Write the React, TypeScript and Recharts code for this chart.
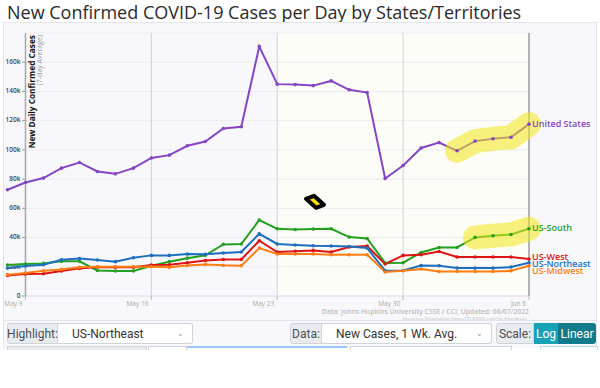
import React from 'react';
import {
  LineChart,
  Line,
  XAxis,
  YAxis,
  ReferenceLine,
  ReferenceArea,
  ReferenceDot,
  LabelList,
} from 'recharts';

const dates = [
  'May 8', 'May 9', 'May 10', 'May 11', 'May 12', 'May 13', 'May 14', 'May 15',
  'May 16', 'May 17', 'May 18', 'May 19', 'May 20', 'May 21', 'May 22', 'May 23',
  'May 24', 'May 25', 'May 26', 'May 27', 'May 28', 'May 29', 'May 30', 'May 31',
  'Jun 1', 'Jun 2', 'Jun 3', 'Jun 4', 'Jun 5', 'Jun 6',
];
const xTicks = [1, 8, 15, 22, 29];
const yTicks = [0, 20000, 40000, 60000, 80000, 100000, 120000, 140000, 160000, 180000];

const unitedStates = [
  72700, 77700, 80700, 87500, 91400, 85200, 83600, 87500, 94500, 96400,
  102800, 105700, 114600, 115800, 170700, 145000, 144700, 144000, 147200, 141100,
  139200, 80400, 89300, 101300, 105000, 99400, 106000, 107600, 108700, 117600,
];
const usSouth = [
  21200, 21900, 22300, 23700, 23700, 17500, 17100, 17100, 20700, 23500,
  25900, 27900, 35300, 35600, 52000, 46000, 45500, 45800, 46000, 40300,
  39400, 22600, 22800, 29800, 33200, 33200, 40100, 41200, 42100, 46000,
];
const usNortheast = [
  19100, 20500, 21400, 24800, 25700, 24600, 23500, 26200, 27800, 27800,
  28700, 28500, 29400, 30100, 42600, 35600, 34900, 34400, 34200, 33900,
  32800, 17300, 17500, 20900, 20700, 19100, 19100, 19100, 19800, 22800,
];
const usWest = [
  14100, 15000, 15200, 17100, 18900, 19800, 19600, 19600, 21200, 21400,
  22800, 24300, 25000, 25000, 37800, 30100, 30600, 31200, 30100, 33500,
  34200, 21900, 27800, 28200, 30500, 26700, 26700, 26700, 26700, 25300,
];
const usMidwest = [
  14600, 15700, 17300, 18200, 19600, 20000, 20000, 20000, 20200, 19600,
  20900, 21600, 21000, 20700, 32800, 28700, 28700, 28700, 28200, 28200,
  28200, 16400, 17300, 18500, 16800, 16800, 16800, 16800, 17200, 20700,
];

// last points marked with the yellow highlighter
const usHighlightFrom = 25;
const southHighlightFrom = 26;

const data = dates.map((date, i) => ({
  idx: i,
  date,
  us: unitedStates[i],
  south: usSouth[i],
  northeast: usNortheast[i],
  west: usWest[i],
  midwest: usMidwest[i],
  usHi: i >= usHighlightFrom ? unitedStates[i] : null,
  southHi: i >= southHighlightFrom ? usSouth[i] : null,
}));

const C = {
  us: '#8546c4',
  south: '#23a01f',
  northeast: '#1d6fbd',
  west: '#dd1414',
  midwest: '#ff7d12',
};

const chartFont = '"Open Sans", "DejaVu Sans", sans-serif';
const uiFont = 'Roboto, "Liberation Sans", Arial, sans-serif';

function endLabel(name: string, color: string, dy: number) {
  return (props: any) => {
    const { x, y, index } = props;
    if (index !== dates.length - 1) return null;
    return (
      <text
        x={x + 3}
        y={y + dy}
        fill={color}
        fontSize={9}
        fontWeight={600}
        fontFamily={chartFont}
        dominantBaseline="middle"
      >
        {name}
      </text>
    );
  };
}

// y tick label drawn at the left end of each grid segment
function yTickLabel(v: number) {
  return (props: any) => {
    const { viewBox } = props;
    if (v === 180000) return null;
    return (
      <g>
        <line x1={viewBox.x - 3.5} x2={viewBox.x} y1={viewBox.y} y2={viewBox.y} stroke="#999" />
        <text
          x={viewBox.x - 5}
          y={viewBox.y}
          textAnchor="end"
          dominantBaseline="middle"
          fontSize={6.5}
          fontWeight={600}
          fill="#444"
          fontFamily={chartFont}
        >
          {v === 0 ? '0' : `${v / 1000}k`}
        </text>
      </g>
    );
  };
}

function XTick(props: any) {
  const { x, y, payload } = props;
  return (
    <text
      x={x - 3}
      y={y + 4}
      textAnchor="end"
      fontSize={6.5}
      fill="#aaa"
      fontFamily={chartFont}
    >
      {dates[payload.value]}
    </text>
  );
}

function Cursor(props: any) {
  const { cx, cy } = props;
  return (
    <g transform={`translate(${cx},${cy})`}>
      <path
        d="M -9 -3 L -1 -6 L 9 3 L 1 6 Z"
        fill="#f5e200"
        stroke="#000"
        strokeWidth={4}
        strokeLinejoin="round"
      />
    </g>
  );
}

const dot = (color: string) => ({ r: 1.8, fill: color, stroke: color, strokeWidth: 0 });

function Control({ left, width, label, labelWidth, value }: any) {
  return (
    <div
      style={{
        position: 'absolute',
        left,
        top: 323,
        width,
        height: 21,
        display: 'flex',
        fontSize: 12,
        fontFamily: uiFont,
        color: '#495057',
      }}
    >
      <div
        style={{
          width: labelWidth,
          background: '#e9ecef',
          border: '1px solid #ced4da',
          borderRadius: '3px 0 0 3px',
          display: 'flex',
          alignItems: 'center',
          justifyContent: 'center',
          boxSizing: 'border-box',
        }}
      >
        {label}
      </div>
      {value !== undefined && (
        <div
          style={{
            flex: 1,
            background: '#fff',
            border: '1px solid #ced4da',
            borderLeft: 'none',
            borderRadius: '0 3px 3px 0',
            display: 'flex',
            alignItems: 'center',
            paddingLeft: 14,
            boxSizing: 'border-box',
            position: 'relative',
            color: '#333',
          }}
        >
          {value}
          <span style={{ position: 'absolute', right: 8, fontSize: 8, color: '#999' }}>⌄</span>
        </div>
      )}
    </div>
  );
}

export default function App() {
  return (
    <div
      style={{
        position: 'absolute',
        left: 0,
        top: 0,
        width: 600,
        height: 388,
        background: '#fff',
        overflow: 'hidden',
      }}
    >
      <div
        style={{
          position: 'absolute',
          left: 7,
          top: 0,
          fontSize: 18,
          fontFamily: chartFont,
          color: '#2a2a2a',
          whiteSpace: 'nowrap',
        }}
      >
        New Confirmed COVID-19 Cases per Day by States/Territories
      </div>
      <div
        style={{
          position: 'absolute',
          left: 3,
          top: 22,
          width: 594,
          height: 326,
          background: '#f8f8fc',
          borderTop: '1px solid #e4e4ea',
          borderLeft: '1px solid #e4e4ea',
          borderRight: '1px solid #e4e4ea',
          boxSizing: 'border-box',
        }}
      />
      <div
        style={{
          position: 'absolute',
          left: 3,
          top: 320,
          width: 594,
          height: 1,
          background: '#e4e4ea',
        }}
      />
      <div style={{ position: 'absolute', left: 0, top: 0 }}>
        <LineChart
          width={600}
          height={320}
          data={data}
          margin={{ top: 33, right: 71, left: 7.5, bottom: 12 }}
        >
          <ReferenceArea x1={15} x2={29} fill="#fdfdf7" fillOpacity={1} stroke="none" />
          {yTicks.map((v) => (
            <ReferenceLine
              key={v}
              segment={[
                { x: 1, y: v },
                { x: 29, y: v },
              ]}
              stroke={v === 0 ? '#e2d4ee' : '#ebebf0'}
              label={yTickLabel(v)}
            />
          ))}
          <ReferenceLine x={8} stroke="#d2d2d6" />
          <ReferenceLine x={15} stroke="#d2d2d6" />
          <ReferenceLine x={22} stroke="#d2d2d6" />
          <ReferenceLine x={29} stroke="#9a9a9a" strokeWidth={1.5} />
          <ReferenceLine x={1} stroke="#a8a8a8" strokeWidth={1.5} />
          <XAxis
            type="number"
            dataKey="idx"
            domain={[0, 29]}
            ticks={xTicks}
            tick={<XTick />}
            axisLine={false}
            tickLine={{ stroke: '#bbb' }}
            tickSize={4}
            height={12}
            interval={0}
          />
          <YAxis domain={[0, 180000]} hide />
          <Line
            dataKey="us"
            stroke={C.us}
            strokeWidth={2}
            dot={dot(C.us)}
            isAnimationActive={false}
          >
            <LabelList dataKey="us" content={endLabel('United States', C.us, 0)} />
          </Line>
          <Line
            dataKey="south"
            stroke={C.south}
            strokeWidth={2}
            dot={dot(C.south)}
            isAnimationActive={false}
          >
            <LabelList dataKey="south" content={endLabel('US-South', C.south, 0)} />
          </Line>
          <Line
            dataKey="west"
            stroke={C.west}
            strokeWidth={2}
            dot={dot(C.west)}
            isAnimationActive={false}
          >
            <LabelList dataKey="west" content={endLabel('US-West', C.west, -1)} />
          </Line>
          <Line
            dataKey="northeast"
            stroke={C.northeast}
            strokeWidth={2}
            dot={dot(C.northeast)}
            isAnimationActive={false}
          >
            <LabelList dataKey="northeast" content={endLabel('US-Northeast', C.northeast, 2)} />
          </Line>
          <Line
            dataKey="midwest"
            stroke={C.midwest}
            strokeWidth={2}
            dot={dot(C.midwest)}
            isAnimationActive={false}
          >
            <LabelList dataKey="midwest" content={endLabel('US-Midwest', C.midwest, 5.5)} />
          </Line>
          <Line
            dataKey="usHi"
            stroke="#f2e818"
            strokeOpacity={0.55}
            strokeWidth={24}
            strokeLinecap="round"
            strokeLinejoin="round"
            dot={false}
            connectNulls={false}
            isAnimationActive={false}
          />
          <Line
            dataKey="southHi"
            stroke="#f2e818"
            strokeOpacity={0.55}
            strokeWidth={24}
            strokeLinecap="round"
            strokeLinejoin="round"
            dot={false}
            connectNulls={false}
            isAnimationActive={false}
          />
          <ReferenceDot x={17.1} y={64500} r={6} shape={<Cursor />} />
        </LineChart>
      </div>
      <svg
        width={600}
        height={320}
        style={{ position: 'absolute', left: 0, top: 0, pointerEvents: 'none' }}
      >
        <text
          transform="translate(34.5,35) rotate(-90)"
          textAnchor="end"
          fontSize={8.3}
          fontWeight={700}
          fill="#111"
          fontFamily={chartFont}
        >
          New Daily Confirmed Cases
        </text>
        <text
          transform="translate(42,35) rotate(-90)"
          textAnchor="end"
          fontSize={7}
          fill="#999"
          fontFamily={chartFont}
        >
          (7-day Average)
        </text>
        <text
          x={529}
          y={314}
          textAnchor="end"
          fontSize={6.8}
          fontWeight={600}
          fill="#bbb"
          fontFamily={chartFont}
        >
          Data: Johns Hopkins University CSSE / CCI; Updated: 06/07/2022
        </text>
        <text
          x={529}
          y={319.5}
          textAnchor="end"
          fontSize={4.3}
          fill="#bbb"
          fontFamily={chartFont}
        >
          Interactive Visualization: https://91-DIVOC.com/ by @profwade_
        </text>
      </svg>

      <Control left={7} width={186} label="Highlight:" labelWidth={51} value="US-Northeast" />
      <Control left={290} width={202} label="Data:" labelWidth={32} value="New Cases, 1 Wk. Avg." />
      <Control left={496} width={38} label="Scale:" labelWidth={38} />
      <div
        style={{
          position: 'absolute',
          left: 534,
          top: 323,
          width: 24,
          height: 21,
          background: '#17a2b8',
          color: '#fff',
          fontSize: 12,
          fontFamily: uiFont,
          display: 'flex',
          alignItems: 'center',
          justifyContent: 'center',
        }}
      >
        Log
      </div>
      <div
        style={{
          position: 'absolute',
          left: 558,
          top: 323,
          width: 38,
          height: 21,
          background: '#117a8b',
          color: '#fff',
          fontSize: 12,
          fontFamily: uiFont,
          display: 'flex',
          alignItems: 'center',
          justifyContent: 'center',
          borderRadius: '0 3px 3px 0',
        }}
      >
        Linear
      </div>
      {/* tops of the next row of controls, cut off by the screenshot */}
      <div style={{ position: 'absolute', left: 7, top: 346, width: 138, height: 3, background: '#e9ecef', border: '1px solid #ced4da', borderBottom: 'none' }} />
      <div style={{ position: 'absolute', left: 148, top: 346, width: 37, height: 3, background: '#fff', border: '1px solid #ced4da', borderBottom: 'none' }} />
      <div style={{ position: 'absolute', left: 187, top: 346, width: 160, height: 3, background: '#fff', borderTop: '2px solid #9ec5fe' }} />
      <div style={{ position: 'absolute', left: 350, top: 346, width: 160, height: 3, background: '#fff', border: '1px solid #ced4da', borderBottom: 'none' }} />
      <div style={{ position: 'absolute', left: 540, top: 346, width: 56, height: 3, background: '#fff', border: '1px solid #b6dfe6', borderBottom: 'none' }} />
    </div>
  );
}
